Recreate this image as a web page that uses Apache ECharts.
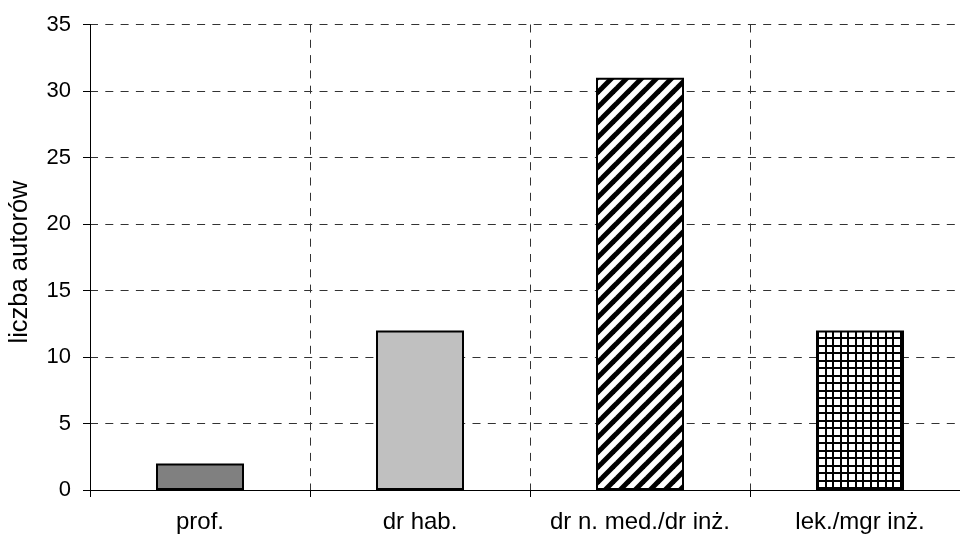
<!DOCTYPE html>
<html>
<head>
<meta charset="utf-8">
<script src="https://cdn.jsdelivr.net/npm/echarts@6/dist/echarts.min.js"></script>
<style>
html,body{margin:0;padding:0;background:#fff;overflow:hidden;width:960px;height:537px;}
#chart{width:980px;height:537px;}
</style>
</head>
<body>
<div id="chart"></div>
<script>
var categories = ['prof.', 'dr hab.', 'dr n. med./dr inż.', 'lek./mgr inż.'];
var values = [2, 12, 31, 12];
var yTicks = [0, 5, 10, 15, 20, 25, 30, 35];
var yTitle = 'liczba autorów';

function diagPattern() {
  var s = 15;
  var c = document.createElement('canvas');
  c.width = s; c.height = s;
  var g = c.getContext('2d');
  g.fillStyle = '#fff'; g.fillRect(0, 0, s, s);
  g.strokeStyle = '#000'; g.lineWidth = 5;
  for (var k = -1; k <= 1; k++) {
    g.beginPath();
    g.moveTo(k * s - 2, s + 2);
    g.lineTo(k * s + s + 2, -2);
    g.stroke();
  }
  return c;
}
function gridPattern() {
  var s = 15;
  var c = document.createElement('canvas');
  c.width = s; c.height = s;
  var g = c.getContext('2d');
  g.fillStyle = '#fff'; g.fillRect(0, 0, s, s);
  g.fillStyle = '#000';
  g.fillRect(0, 0, 2, s); g.fillRect(7, 0, 2, s);
  g.fillRect(0, 0, s, 2); g.fillRect(0, 7, s, 2);
  return c;
}

var fills = [
  '#808080',
  '#c0c0c0',
  { image: diagPattern(), repeat: 'repeat' },
  { image: gridPattern(), repeat: 'repeat' }
];

var chart = echarts.init(document.getElementById('chart'), null, { renderer: 'canvas', width: 980, height: 537 });
var font = 'Liberation Sans, Arial, sans-serif';
chart.setOption({
  animation: false,
  backgroundColor: '#fff',
  grid: { left: 90, right: 10, top: 24.5, bottom: 47, containLabel: false },
  xAxis: {
    type: 'category',
    data: categories,
    boundaryGap: true,
    axisLine: { show: true, lineStyle: { color: '#000', width: 1 } },
    axisTick: { show: true, length: 7, alignWithLabel: false, lineStyle: { color: '#000' } },
    axisLabel: { color: '#000', fontSize: 24, fontFamily: font, margin: 20, interval: 0 },
    splitLine: { show: true, lineStyle: { color: '#333', type: [8, 7.3], width: 1 } }
  },
  yAxis: {
    type: 'value',
    min: yTicks[0],
    max: yTicks[yTicks.length - 1],
    interval: 5,
    axisLine: { show: true, lineStyle: { color: '#000', width: 1 } },
    axisTick: { show: true, length: 7, lineStyle: { color: '#000' } },
    axisLabel: { color: '#000', fontSize: 22, fontFamily: font, margin: 19 },
    splitLine: { show: true, lineStyle: { color: '#333', type: [8, 7.3], width: 1 } }
  },
  graphic: [{
    type: 'text',
    x: 20, y: 262,
    rotation: Math.PI / 2,
    style: { text: yTitle, fill: '#000', font: '25.5px ' + font, align: 'center', verticalAlign: 'middle' }
  }],
  series: [{
    type: 'bar',
    barWidth: 88,
    data: values.map(function (v, i) {
      return { value: v, itemStyle: { color: fills[i], borderColor: '#000', borderWidth: 2 } };
    })
  }]
});
</script>
</body>
</html>
